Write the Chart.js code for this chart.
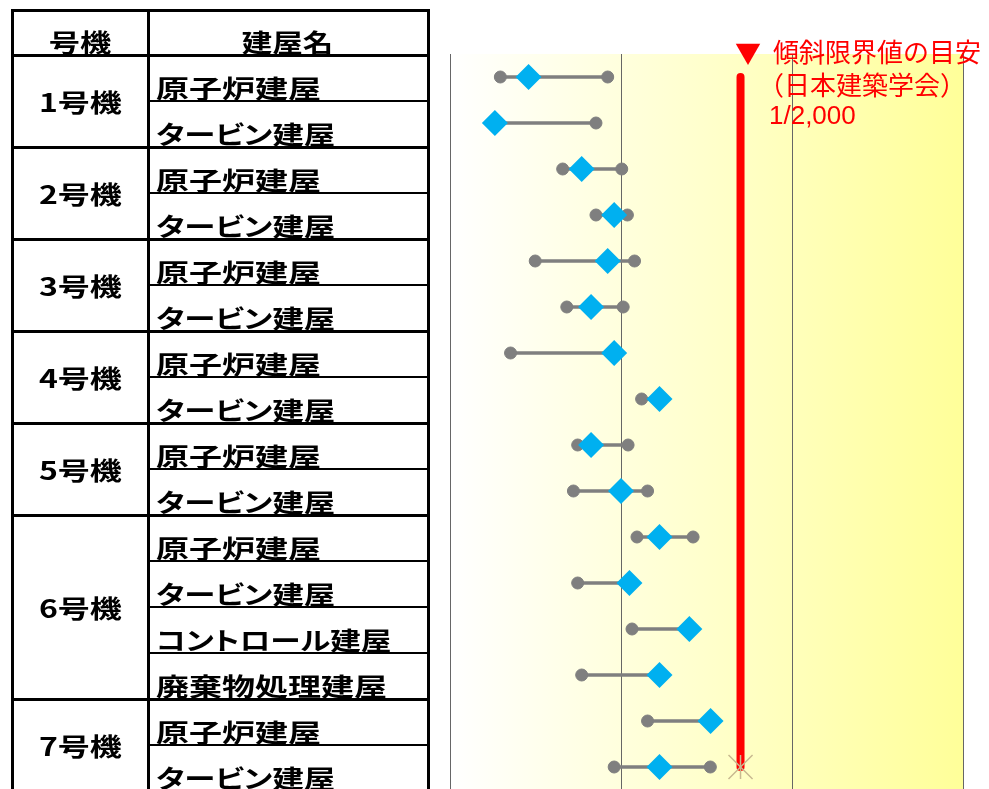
<!DOCTYPE html>
<html lang="ja">
<head>
<meta charset="utf-8">
<title>建屋傾斜</title>
<script src="https://cdn.jsdelivr.net/npm/chart.js@4.4.1/dist/chart.umd.min.js"></script>
<style>
html,body{margin:0;padding:0;background:#fff;}
body{width:989px;height:789px;overflow:hidden;position:relative;font-family:"Noto Sans CJK JP",sans-serif;}
#chart{position:absolute;left:0;top:0;}
#table{position:absolute;left:0;top:0;width:440px;height:800px;}
.ln{position:absolute;background:#000;}
.cell{position:absolute;display:flex;align-items:flex-end;line-height:1;font-weight:700;font-size:25px;color:#000;white-space:nowrap;font-feature-settings:"palt";}
.cell span{display:inline-block;}
.note{position:absolute;color:#ff0000;font-size:26px;line-height:1;white-space:nowrap;}
</style>
</head>
<body>
<canvas id="chart" width="989" height="840"></canvas>
<div id="table"></div>
<div class="note" style="left:735px;top:39px;">▼</div>
<div class="note" style="left:773px;top:38px;">傾斜限界値の目安</div>
<div class="note" style="left:758px;top:71px;">（日本建築学会）</div>
<div class="note" style="left:769px;top:102px;font-family:'Liberation Sans',sans-serif;">1/2,000</div>
<script>
// ---- data ----
const units = ['1号機', '2号機', '3号機', '4号機', '5号機', '6号機', '7号機'];
const unitRows = [2, 2, 2, 2, 2, 4, 2];
const buildings = [
  '原子炉建屋', 'タービン建屋',
  '原子炉建屋', 'タービン建屋',
  '原子炉建屋', 'タービン建屋',
  '原子炉建屋', 'タービン建屋',
  '原子炉建屋', 'タービン建屋',
  '原子炉建屋', 'タービン建屋', 'コントロール建屋', '廃棄物処理建屋',
  '原子炉建屋', 'タービン建屋'
];
// tilt (rad)
const minTilt  = [1.97e-5, 1.83e-5, 4.56e-5, 7.14e-5, 3.15e-5, 4.82e-5, 2.26e-5, 1.32e-4,
                  5.58e-5, 5.27e-5, 1.24e-4, 5.58e-5, 1.16e-4, 5.89e-5, 1.43e-4, 9.12e-5];
const meanTilt = [2.88e-5, 1.83e-5, 5.89e-5, 9.12e-5, 8.36e-5, 6.68e-5, 9.12e-5, 1.68e-4,
                  6.68e-5, 1.00e-4, 1.68e-4, 1.12e-4, 2.51e-4, 1.68e-4, 3.34e-4, 1.68e-4];
const maxTilt  = [8.36e-5, 7.14e-5, 1.01e-4, 1.09e-4, 1.20e-4, 1.03e-4, 9.12e-5, 1.68e-4,
                  1.10e-4, 1.43e-4, 2.64e-4, 1.12e-4, 2.51e-4, 1.68e-4, 3.34e-4, 3.33e-4];
const limitTilt = 1 / 2000;
const gridTicks = [1e-5, 1e-4, 1e-3, 1e-2];

// ---- table ----
const tbl = document.getElementById('table');
const L = 12, MID = 148, R = 428, TOP = 10, HEAD = 55, ROW = 46, BOTTOM = 800;

function line(x, y, w, h){
  const d = document.createElement('div');
  d.className = 'ln';
  d.style.left = x + 'px'; d.style.top = y + 'px';
  d.style.width = w + 'px'; d.style.height = h + 'px';
  tbl.appendChild(d);
}
function cell(text, x, y, w, h, center, scale){
  const d = document.createElement('div');
  d.className = 'cell';
  d.style.left = x + 'px'; d.style.top = y + 'px';
  d.style.width = w + 'px'; d.style.height = h + 'px';
  if(center) d.style.justifyContent = 'center';
  const s = document.createElement('span');
  s.textContent = text;
  s.style.transform = 'scaleX(' + scale + ')';
  s.style.transformOrigin = center ? 'center bottom' : 'left bottom';
  d.appendChild(s);
  tbl.appendChild(d);
}
// katakana is set narrower than kanji in the original font
function nameScale(text){
  const kata = (text.match(/[\u30A0-\u30FF]/g) || []).length;
  return 1.32 - 0.016 * kata;
}

// vertical borders
line(L - 1.5, TOP - 1.5, 3, BOTTOM);
line(MID - 1.5, TOP - 1.5, 3, BOTTOM);
line(R - 1.5, TOP - 1.5, 3, BOTTOM);
// top + header bottom
line(L - 1.5, TOP - 1.5, R - L + 3, 3);
line(L - 1.5, HEAD - 1.5, R - L + 3, 3);

cell('号機', L, TOP, MID - L, HEAD - TOP - 1, true, 1.25);
cell('建屋名', MID, TOP, R - MID, HEAD - TOP - 1, true, 1.22);

const groupEnds = [];
let acc = 0;
unitRows.forEach((n, g) => {
  const y0 = HEAD + acc * ROW;
  cell(units[g], L, y0 - 1, MID - L, n * ROW / 2 + 14, true, 1.28);
  acc += n;
  groupEnds.push(acc);
});
buildings.forEach((b, i) => {
  const y0 = HEAD + i * ROW;
  cell(b, MID + 8, y0, 270, ROW - 1, false, nameScale(b));
  const yb = y0 + ROW;
  if(groupEnds.includes(i + 1)) line(L - 1.5, yb - 1.5, R - L + 3, 3);
  else line(MID, yb - 1, R - MID, 2);
});

// ---- chart ----
const bgPlugin = {
  id: 'plotBg',
  beforeDraw(chart){
    const {ctx, chartArea: a} = chart;
    const g = ctx.createLinearGradient(a.left, 0, a.right, 0);
    g.addColorStop(0, '#ffffff');
    g.addColorStop(1, '#ffff99');
    ctx.save();
    ctx.fillStyle = g;
    ctx.fillRect(a.left, a.top, a.right - a.left, a.bottom - a.top);
    ctx.restore();
  }
};

const rows = buildings.map((_, i) => i);
const rangeSets = rows.map(i => ({
  data: [{x: minTilt[i], y: i}, {x: maxTilt[i], y: i}],
  showLine: true, borderColor: '#7f7f7f', borderWidth: 3.5, pointRadius: 0
}));

const datasets = [
  { data: [{x: limitTilt, y: 15}], pointStyle: 'crossRot', pointRadius: 17,
    borderColor: '#c8b990', borderWidth: 1.5, backgroundColor: 'transparent' },
  { data: [{x: limitTilt, y: 15}], pointStyle: 'line', rotation: 90, pointRadius: 12,
    borderColor: '#c8b990', borderWidth: 1.5, backgroundColor: 'transparent' },
  { data: rows.map(i => ({x: meanTilt[i], y: i})), pointStyle: 'rectRot', pointRadius: 13,
    backgroundColor: '#00b0f0', borderColor: '#00b0f0', borderWidth: 0 },
  { data: rows.map(i => ({x: minTilt[i], y: i})), pointStyle: 'circle', pointRadius: 6,
    backgroundColor: '#7f7f7f', borderColor: '#7f7f7f', borderWidth: 1 },
  { data: rows.map(i => ({x: maxTilt[i], y: i})), pointStyle: 'circle', pointRadius: 6,
    backgroundColor: '#7f7f7f', borderColor: '#7f7f7f', borderWidth: 1 },
  ...rangeSets,
  { data: [{x: limitTilt, y: 0}, {x: limitTilt, y: 15}], showLine: true,
    borderColor: '#ff0000', borderWidth: 8, borderCapStyle: 'round', pointRadius: 0 }
];

// wanted plot area (px)
const AREA = {left: 450, right: 963, top: 54, bottom: 790};
const pad = {left: AREA.left, top: AREA.top, right: 989 - AREA.right, bottom: 840 - AREA.bottom};

const chart = new Chart(document.getElementById('chart'), {
  type: 'scatter',
  data: {datasets},
  options: {
    responsive: false,
    animation: false,
    events: [],
    layout: {padding: pad},
    plugins: {legend: {display: false}, tooltip: {enabled: false}},
    scales: {
      x: {
        type: 'logarithmic', min: 1e-5, max: 1e-2,
        afterBuildTicks: s => { s.ticks = gridTicks.map(v => ({value: v})); },
        ticks: {display: false},
        grid: {color: '#666666', lineWidth: 1, drawTicks: false},
        border: {display: false}
      },
      y: {type: 'linear', min: -0.5, max: 15.5, reverse: true, display: false}
    }
  },
  plugins: [bgPlugin]
});

// nudge padding so the plot area lands where the rows of the table are
const a = chart.chartArea;
pad.left += AREA.left - a.left;
pad.top += AREA.top - a.top;
pad.right += a.right - AREA.right;
pad.bottom += a.bottom - AREA.bottom;
chart.options.layout.padding = pad;
chart.update();
</script>
</body>
</html>
